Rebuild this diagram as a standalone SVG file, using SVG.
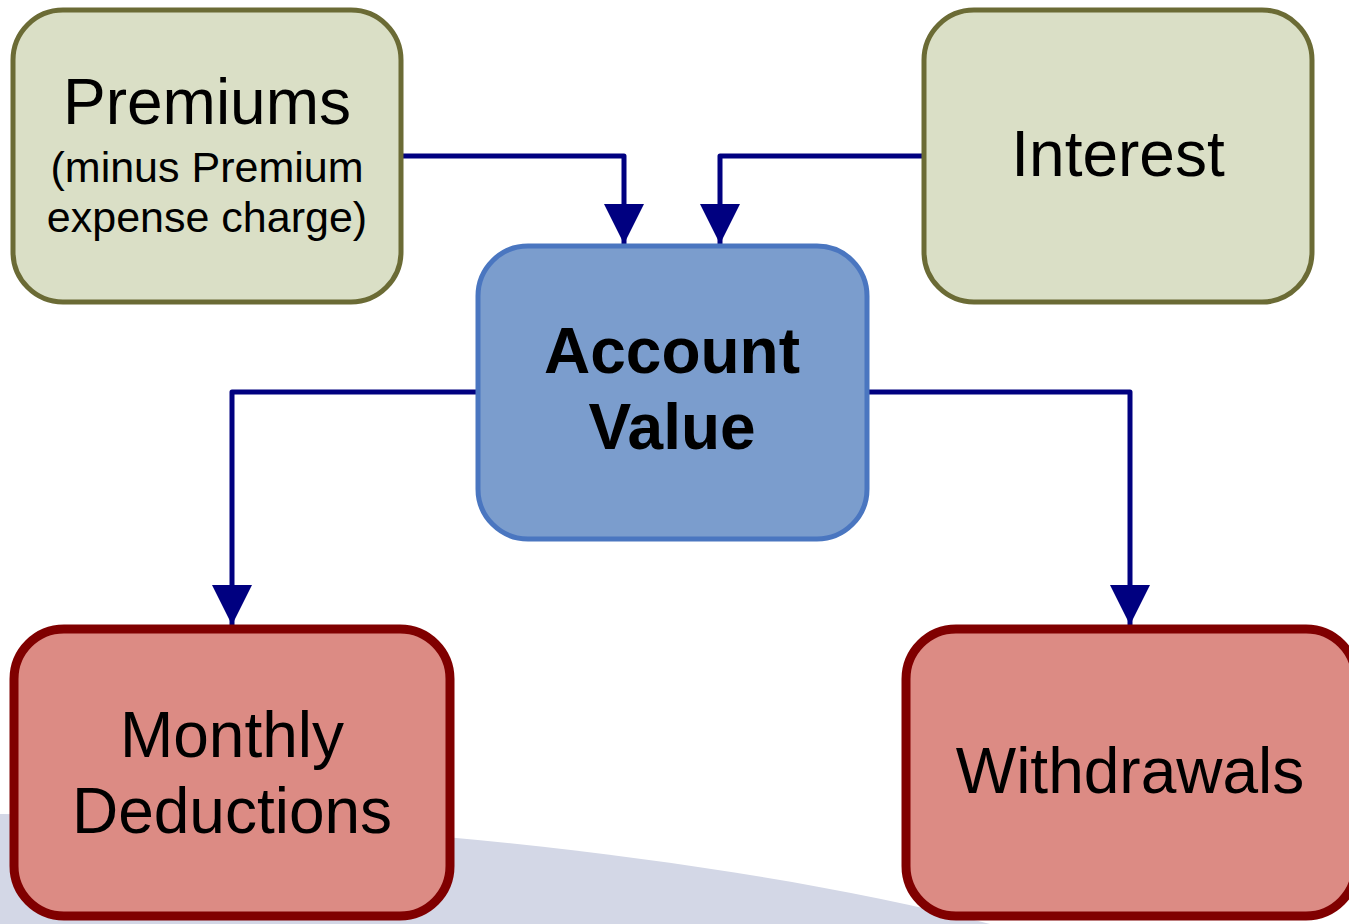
<svg xmlns="http://www.w3.org/2000/svg" width="1349" height="924" viewBox="0 0 1349 924">
<style>
text{font-family:"Liberation Sans",Arial,sans-serif;fill:#000;text-anchor:middle}
.big{font-size:64px}
.small{font-size:43px}
.bold{font-weight:bold}
.src rect{fill:#dadfc6;stroke:#6b6b35;stroke-width:5}
.ctr rect{fill:#7b9dcd;stroke:#4a76c0;stroke-width:5}
.out rect{fill:#dc8b84;stroke:#800000;stroke-width:9}
.conn{fill:none;stroke:#000080;stroke-width:5;stroke-linejoin:round}
</style>
<defs>
<marker id="arr" markerUnits="userSpaceOnUse" markerWidth="42" markerHeight="40" refX="40" refY="20" orient="auto" viewBox="0 0 42 40">
<path d="M0,0 L40,20 L0,40 Z" fill="#000080"/>
</marker>
</defs>
<rect x="0" y="0" width="1349" height="924" fill="#ffffff"/>
<path d="M0,814 C300,816 700,850 990,924 L0,924 Z" fill="#d3d7e6"/>
<g id="connectors">
<path class="conn" d="M401,156 H624 V244" marker-end="url(#arr)"/>
<path class="conn" d="M923,156 H720 V244" marker-end="url(#arr)"/>
<path class="conn" d="M478,392 H232 V625" marker-end="url(#arr)"/>
<path class="conn" d="M867,392 H1130 V625" marker-end="url(#arr)"/>
</g>
<g id="premiums" class="src">
<rect x="13" y="10" width="388" height="292" rx="50"/>
<text class="big" x="207" y="124">Premiums</text>
<text class="small" x="207" y="182">(minus Premium</text>
<text class="small" x="207" y="232">expense charge)</text>
</g>
<g id="interest" class="src">
<rect x="924" y="10" width="388" height="292" rx="50"/>
<text class="big" x="1118" y="176">Interest</text>
</g>
<g id="account-value" class="ctr">
<rect x="478" y="246" width="389" height="293" rx="50"/>
<text class="big bold" x="672" y="373">Account</text>
<text class="big bold" x="672" y="449">Value</text>
</g>
<g id="monthly-deductions" class="out">
<rect x="14" y="629" width="436" height="287" rx="50"/>
<text class="big" x="232" y="757">Monthly</text>
<text class="big" x="232" y="833">Deductions</text>
</g>
<g id="withdrawals" class="out">
<rect x="906" y="629" width="450" height="287" rx="50"/>
<text class="big" x="1130" y="793">Withdrawals</text>
</g>
</svg>
